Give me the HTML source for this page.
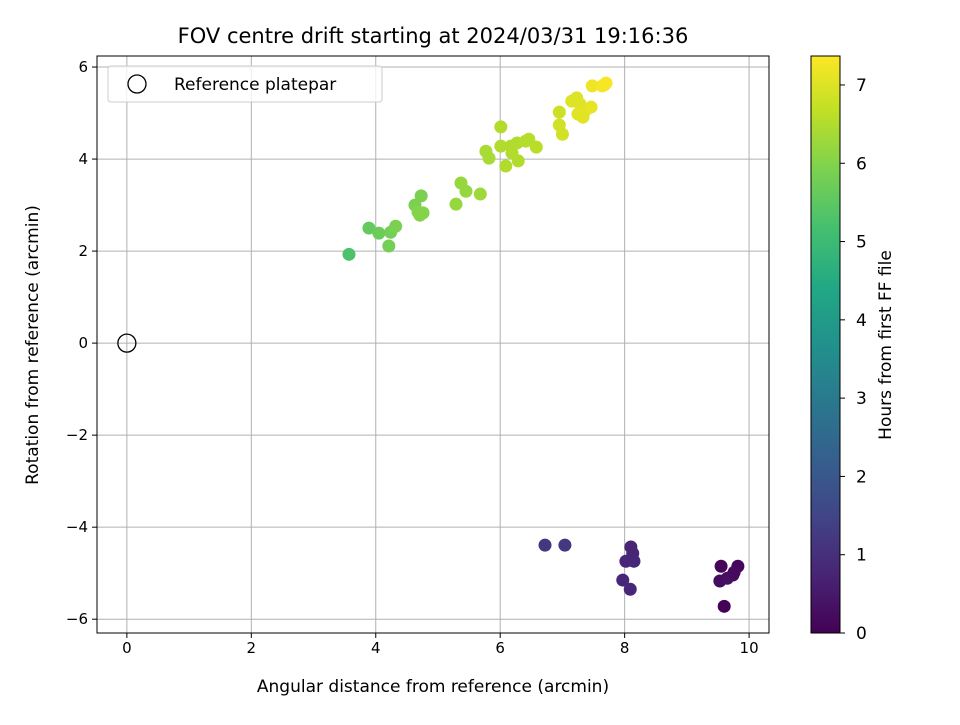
<!DOCTYPE html>
<html><head><meta charset="utf-8"><style>
body{margin:0;background:#fff;font-family:"Liberation Sans","DejaVu Sans",sans-serif}
</style></head><body>
<svg id="c" width="960" height="720" xmlns="http://www.w3.org/2000/svg" font-family="DejaVu Sans, Liberation Sans, sans-serif">
<defs><linearGradient id="vir" x1="0" y1="1" x2="0" y2="0">
<stop offset="0" stop-color="#440154"/><stop offset="0.1" stop-color="#482475"/><stop offset="0.2" stop-color="#414487"/><stop offset="0.3" stop-color="#355f8d"/><stop offset="0.4" stop-color="#2a788e"/><stop offset="0.5" stop-color="#21918c"/><stop offset="0.6" stop-color="#22a884"/><stop offset="0.7" stop-color="#44bf70"/><stop offset="0.8" stop-color="#7ad151"/><stop offset="0.9" stop-color="#bddf26"/><stop offset="1" stop-color="#fde725"/>
</linearGradient></defs>
<g id="grid"></g><g id="pts"></g><g id="axes"></g>
</svg>
<script>
const xs=[9.60,9.55,9.82,9.74,9.53,9.65,9.76,8.10,8.13,8.02,8.15,7.97,8.09,6.72,7.04,3.57,3.89,4.05,4.21,4.24,4.32,4.63,4.73,4.68,4.76,4.71,5.29,5.37,5.45,5.68,5.77,5.82,6.01,6.01,6.17,6.27,6.41,6.46,6.09,6.29,6.58,6.19,6.95,6.95,7.0,7.15,7.23,7.28,7.25,7.38,7.33,7.46,7.48,7.64,7.70,7.67];
const ys=[-5.72,-4.85,-4.85,-5.04,-5.17,-5.11,-4.98,-4.43,-4.57,-4.74,-4.74,-5.15,-5.35,-4.39,-4.39,1.93,2.5,2.39,2.11,2.41,2.54,3.0,3.2,2.85,2.83,2.78,3.02,3.48,3.3,3.24,4.17,4.02,4.70,4.28,4.28,4.35,4.39,4.43,3.85,3.96,4.26,4.13,5.02,4.74,4.54,5.26,5.33,5.2,4.98,5.07,4.91,5.13,5.59,5.59,5.65,5.61];
const hrs=[0.05,0.1,0.15,0.2,0.25,0.3,0.2,0.75,0.75,0.8,0.8,0.8,0.8,1.15,1.2,5.3,5.6,5.7,5.8,5.8,5.9,5.9,5.9,6,6,6,6.2,6.2,6.2,6.3,6.4,6.4,6.5,6.5,6.5,6.5,6.55,6.55,6.5,6.5,6.6,6.5,6.8,6.85,6.85,7,7,7,7.05,7.05,7.05,7.1,7.2,7.25,7.3,7.3];
const xTicks=[0,2,4,6,8,10], yTicks=[-6,-4,-2,0,2,4,6], cTicks=[0,1,2,3,4,5,6,7];
const L=97,R=769,T=56,B=633,xmin=-0.48,xmax=10.32,ymin=-6.30,ymax=6.24,cmax=7.37;
const X=v=>L+(v-xmin)/(xmax-xmin)*(R-L), Y=v=>B-(v-ymin)/(ymax-ymin)*(B-T), C=v=>B-v/cmax*(B-T);
const V=[[68,1,84],[72,36,117],[65,68,135],[53,95,141],[42,120,142],[33,145,140],[34,168,132],[68,191,112],[122,209,81],[189,223,38],[253,231,37]];
function vir(t){t=Math.max(0,Math.min(1,t));const f=t*10,i=Math.min(9,Math.floor(f)),r=f-i;return 'rgb('+V[i].map((c,k)=>Math.round(c+(V[i+1][k]-c)*r)).join(',')+')';}
const NS='http://www.w3.org/2000/svg';
function mk(p,tag,a,txt){const e=document.createElementNS(NS,tag);for(const k in a)e.setAttribute(k,a[k]);if(txt!=null)e.textContent=txt;p.appendChild(e);return e;}
const g=document.getElementById('grid'),pg=document.getElementById('pts'),ax=document.getElementById('axes');
xTicks.forEach(t=>{const l=mk(g,'line',{x1:X(t),x2:X(t),y1:T,y2:B,stroke:'#b0b0b0','stroke-width':1});

mk(ax,'line',{x1:X(t),x2:X(t),y1:B,y2:B+5,stroke:'#000'});
const tx=mk(ax,'text',{x:X(t),y:B+20,'font-size':15,'text-anchor':'middle'},String(t));
});
yTicks.forEach(t=>{const l=mk(g,'line',{x1:L,x2:R,y1:Y(t),y2:Y(t),stroke:'#b0b0b0','stroke-width':1});

mk(ax,'line',{x1:L-5,x2:L,y1:Y(t),y2:Y(t),stroke:'#000'});
const tx=mk(ax,'text',{x:L-9,y:Y(t)+5,'font-size':15,'text-anchor':'end'},String(t).replace('-','\u2212'));
});
const ref=mk(pg,'circle',{cx:X(0),cy:Y(0),r:9,fill:'none',stroke:'#000','stroke-width':1.3});

xs.forEach((x,i)=>{const c=mk(pg,'circle',{cx:X(x),cy:Y(ys[i]),r:6.5,fill:vir(hrs[i]/cmax)});
});
const fr=mk(ax,'rect',{x:L,y:T,width:R-L,height:B-T,fill:'none',stroke:'#000','stroke-width':1});

const lg=mk(ax,'g',{});
mk(lg,'rect',{x:108,y:66,width:274,height:36,rx:3,fill:'#fff','fill-opacity':0.8,stroke:'#ccc'});
mk(lg,'circle',{cx:137,cy:84,r:9,fill:'none',stroke:'#000','stroke-width':1.3});
const lt=mk(lg,'text',{x:174,y:90,'font-size':17},'Reference platepar');

const cb=mk(ax,'rect',{x:811,y:T,width:29,height:B-T,fill:'url(#vir)',stroke:'#000','stroke-width':1});

cTicks.forEach(t=>{mk(ax,'line',{x1:840,x2:845,y1:C(t),y2:C(t),stroke:'#000'});
const tx=mk(ax,'text',{x:856,y:C(t)+6,'font-size':17},String(t));
});
const t1=mk(ax,'text',{x:433,y:43,'font-size':21,'text-anchor':'middle'},'FOV centre drift starting at 2024/03/31 19:16:36');

const t2=mk(ax,'text',{x:433,y:692,'font-size':17,'text-anchor':'middle'},'Angular distance from reference (arcmin)');

const t3=mk(ax,'text',{x:38,y:345,'font-size':17,'text-anchor':'middle',transform:'rotate(-90 38 345)'},'Rotation from reference (arcmin)');

const t4=mk(ax,'text',{x:891,y:345,'font-size':17,'text-anchor':'middle',transform:'rotate(-90 891 345)'},'Hours from first FF file');

</script>
</body></html>
